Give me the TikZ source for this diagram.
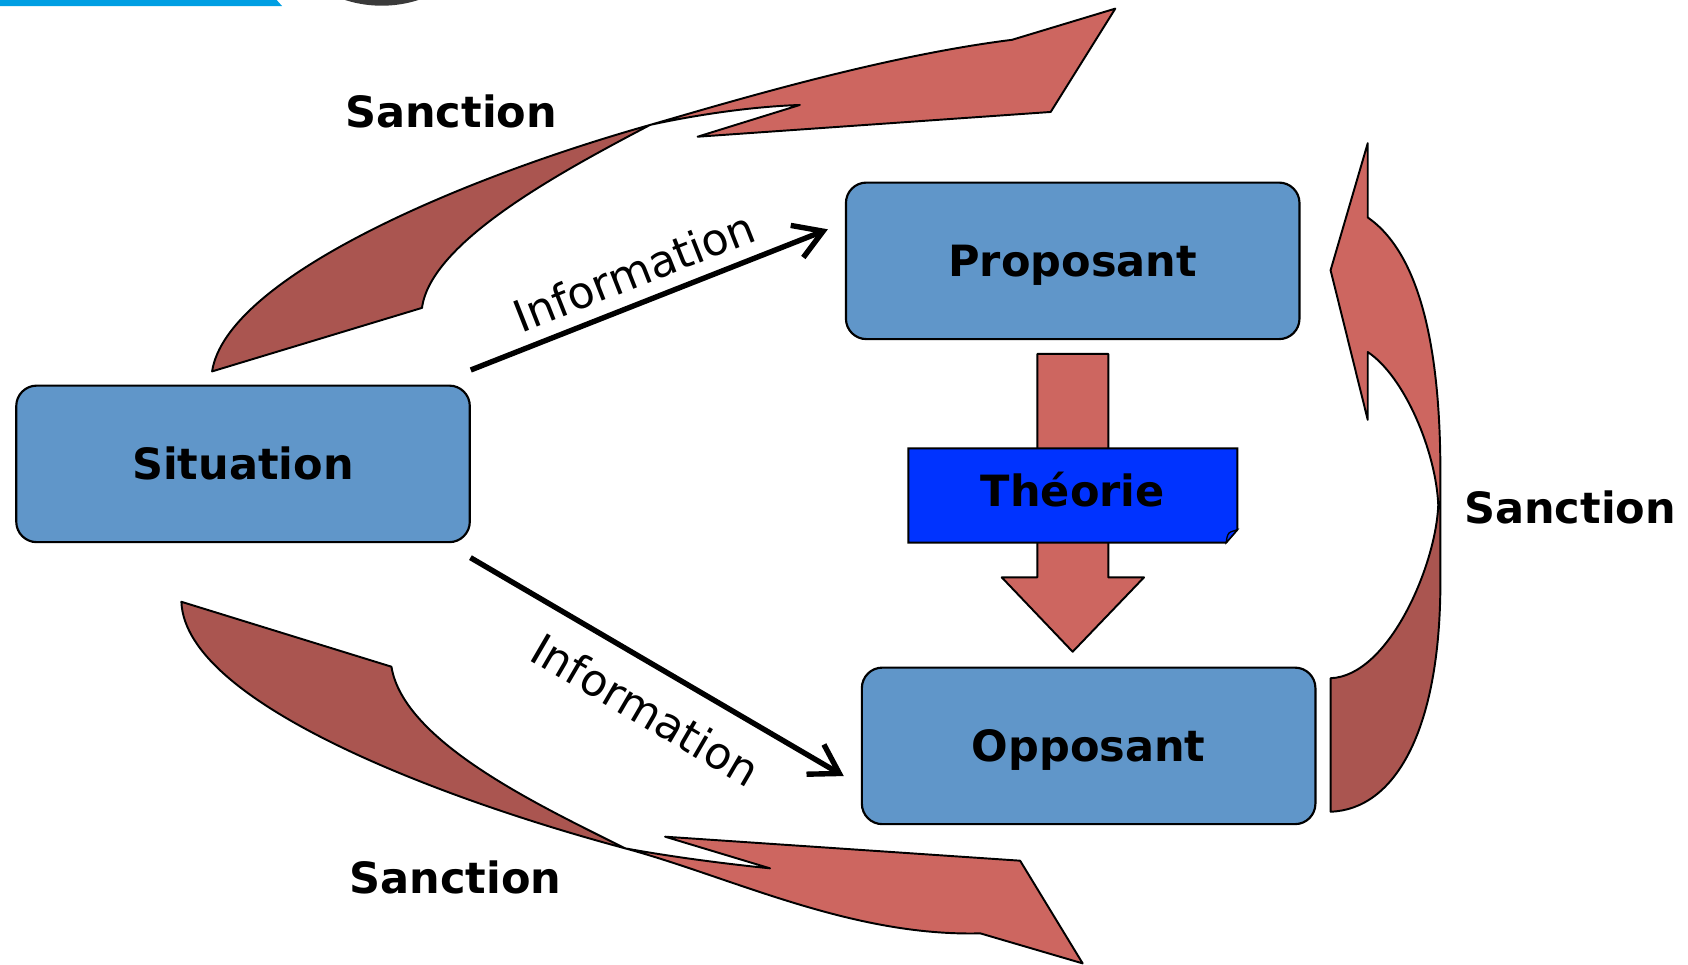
\documentclass[tikz,border=0pt]{standalone}
\usepackage{fontspec}
\setmainfont{DejaVu Sans}
\usetikzlibrary{arrows.meta}
\definecolor{boxblue}{RGB}{96,150,201}
\definecolor{theoblue}{RGB}{0,51,255}
\definecolor{redlt}{RGB}{205,102,96}
\definecolor{reddk}{RGB}{170,85,80}
\definecolor{topblue}{RGB}{0,159,227}
\definecolor{logogray}{RGB}{58,58,58}
\tikzset{
  box/.style={draw=black, line width=2pt, fill=boxblue, rounded corners=19pt,
    minimum width=421.3pt, minimum height=145.4pt, inner sep=0pt,
    text height=29.2pt, text depth=0pt, font=\bfseries\fontsize{40}{48}\selectfont},
  lbl/.style={inner sep=0pt, text height=29.2pt, text depth=0pt,
    font=\bfseries\fontsize{40}{48}\selectfont},
  infolbl/.style={inner sep=0pt, font=\fontsize{41}{48}\selectfont},
  infoarrow/.style={line width=5pt, -{Straight Barb[length=26pt,width=32pt]}},
  dk/.style={draw=black, line width=1.8pt, fill=reddk, line join=round},
  lt/.style={draw=black, line width=1.8pt, fill=redlt, line join=round},
}
\begin{document}
\begin{tikzpicture}[x=1pt,y=-1pt]
\useasboundingbox (0,0) rectangle (1568,896);
\begin{scope}
  \clip (0,0) rectangle (1568,896);
  \fill[topblue] (0,-5) -- (257,-5) -- (257,0) -- (262,5.6) -- (0,5.6) -- cycle;
  \fill[logogray] (354.6,-106.4) circle[radius=111.7];
\end{scope}

% top curved arrow
\draw[dk] (197,345) .. controls (210,260) and (420,168) .. (604,116)
  .. controls (520,160) and (400,225) .. (392,286) -- cycle;
\draw[lt] (604,116) .. controls (680,94) and (820,52) .. (940,37)
  -- (1036,8) -- (976,104) -- (648,127) -- (743,97.5)
  .. controls (700,99) and (650,106) .. (604,116) -- cycle;

% bottom curved arrow
\draw[dk] (168.5,559) .. controls (172,655) and (420,745) .. (580.6,788)
  .. controls (505,750) and (375,690) .. (363.6,619.3) -- cycle;
\draw[lt] (580.6,788) .. controls (680,815) and (790,870) .. (910.6,867)
  -- (1005.7,894.9) -- (947.6,799.5) -- (617.8,777.2) -- (715.3,806.6)
  .. controls (680,803) and (630,797) .. (580.6,788) -- cycle;

% right curved arrow
\def\rightarrowpath{(1236,754) .. controls (1295,752) and (1338,680) .. (1338,540)
  -- (1338,440) .. controls (1338,320) and (1318,235) .. (1270.5,202)
  -- (1270.5,133) -- (1236,251) -- (1270.5,390) -- (1270.5,327)
  .. controls (1305,350) and (1334,420) .. (1336,469)
  .. controls (1334,525) and (1290,628) .. (1236,630) -- cycle}
\fill[redlt] \rightarrowpath;
\begin{scope}
  \clip (1200,469) rectangle (1400,800);
  \fill[reddk] \rightarrowpath;
\end{scope}
\draw[line width=1.8pt, line join=round] \rightarrowpath;

% boxes
\node[box] (sit) at (225.75,430.9) {Situation};
\node[box] (prop) at (996.45,242.3) {Proposant};
\node[box] (opp) at (1011.25,692.85) {Opposant};

% down arrow and theory
\draw[lt] (963.6,328.8) -- (1029.5,328.8) -- (1029.5,536.3) -- (1062.7,536.3)
  -- (996.4,605.4) -- (930.5,536.3) -- (963.6,536.3) -- cycle;
\draw[fill=theoblue, line width=1.8pt] (843.8,416.5) -- (1149.4,416.5) -- (1149.4,492)
  -- (1139,504) -- (843.8,504) -- cycle;
\draw[fill=theoblue, line width=1.2pt] (1139,504) .. controls (1139.5,498) and (1141,494.5) .. (1143.5,494)
  -- (1149.4,492) -- cycle;
\node[lbl] (theo) at (996.6,456) {Théorie};

% information arrows
\coordinate (i1s) at (437.3,343.7);
\coordinate (i1e) at (769,213);
\coordinate (i2s) at (437,518);
\coordinate (i2e) at (783.8,720.9);
\draw[infoarrow] (i1s) -- (i1e);
\draw[infoarrow] (i2s) -- (i2e);
\node[infolbl, rotate=21.5] (inf1) at (589,252) {Information};
\node[infolbl, rotate=-30.3] (inf2) at (600,659) {Information};

% sanction labels
\node[lbl] (s1) at (419,104) {Sanction};
\node[lbl] (s2) at (423,815) {Sanction};
\node[lbl] (s3) at (1458.5,472) {Sanction};
\end{tikzpicture}
\end{document}
